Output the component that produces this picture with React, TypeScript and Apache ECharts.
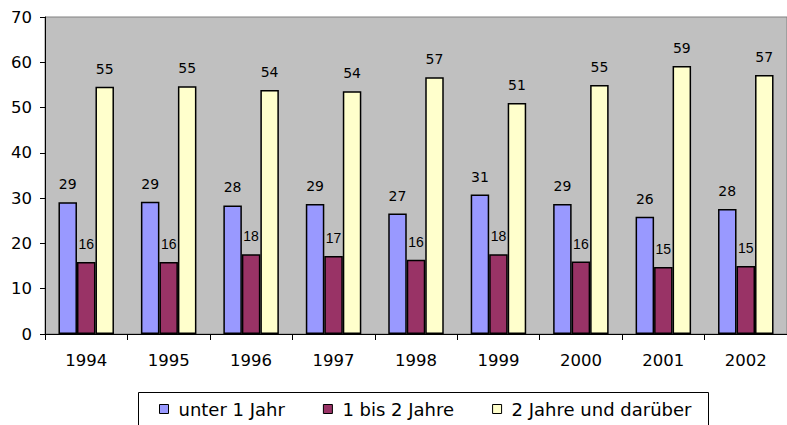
import React, { useEffect, useRef } from "react";
import * as echarts from "echarts";

const categories = ["1994", "1995", "1996", "1997", "1998", "1999", "2000", "2001", "2002"];
const unter1 = [29.1, 29.2, 28.4, 28.7, 26.6, 30.8, 28.7, 25.9, 27.6];
const bis2 = [15.9, 15.9, 17.6, 17.2, 16.4, 17.6, 16.0, 14.8, 15.0];
const ueber2 = [54.6, 54.7, 53.9, 53.6, 56.7, 51.0, 55.0, 59.2, 57.2];
const seriesNames = ["unter 1 Jahr", "1 bis 2 Jahre", "2 Jahre und darüber"];
const yTicks = [0, 10, 20, 30, 40, 50, 60, 70];

export default function App() {
  const ref = useRef<HTMLDivElement>(null);
  useEffect(() => {
    if (!ref.current) return;
    const chart = echarts.init(ref.current, undefined, { renderer: "svg" });
    const font = "DejaVu Sans";
    const mkLabel = (narrow: boolean) => ({
      show: true,
      position: "top",
      distance: 11,
      color: "#000",
      fontSize: 14,
      fontFamily: narrow ? "Liberation Sans Narrow, Liberation Sans, sans-serif" : font,
      formatter: (p: any) => String(Math.round(p.value)),
    });
    const colors = ["#9999FF", "#993366", "#FFFFCC"];
    const datas = [unter1, bis2, ueber2];
    chart.setOption({
      animation: false,
      graphic: [
        {
          type: "rect",
          shape: { x: 138.5, y: 392.5, width: 570, height: 60 },
          style: { fill: "#fff", stroke: "#000", lineWidth: 1 },
          z: -1,
        },
      ],
      legend: {
        left: 159,
        top: 400,
        itemWidth: 9,
        itemHeight: 9,
        itemGap: 38,
        icon: "rect",
        padding: 0,
        itemStyle: { borderColor: "#000", borderWidth: 1 },
        textStyle: { fontFamily: font, fontSize: 18, color: "#000", padding: [0, 0, 0, 5] },
        data: seriesNames,
      },
      grid: {
        left: 45,
        top: 17,
        right: -7,
        bottom: 91,
        show: true,
        backgroundColor: "#C0C0C0",
        borderColor: "#808080",
        borderWidth: 1,
      },
      xAxis: {
        type: "category",
        data: categories,
        axisLine: { lineStyle: { color: "#000", width: 1 } },
        axisTick: { show: true, length: 6, lineStyle: { color: "#000" } },
        axisLabel: { color: "#000", fontFamily: font, fontSize: 16.5, margin: 18 },
        splitLine: { show: false },
      },
      yAxis: {
        type: "value",
        min: yTicks[0],
        max: yTicks[yTicks.length - 1],
        interval: 10,
        axisLine: { show: true, lineStyle: { color: "#000", width: 1 } },
        axisTick: { show: true, length: 5, lineStyle: { color: "#000" } },
        axisLabel: { color: "#000", fontFamily: font, fontSize: 16.5, margin: 13 },
        splitLine: { show: false },
      },
      series: datas.map((d, i) => ({
        name: seriesNames[i],
        type: "bar",
        data: d,
        barWidth: 18.5,
        barGap: "0%",
        itemStyle: { color: colors[i], borderColor: "#000", borderWidth: 1.5 },
        label: mkLabel(i === 1),
      })),
    });
    return () => chart.dispose();
  }, []);
  return (
    <div
      ref={ref}
      style={{ position: "fixed", left: 0, top: 0, width: 787, height: 425, background: "#fff" }}
    />
  );
}
